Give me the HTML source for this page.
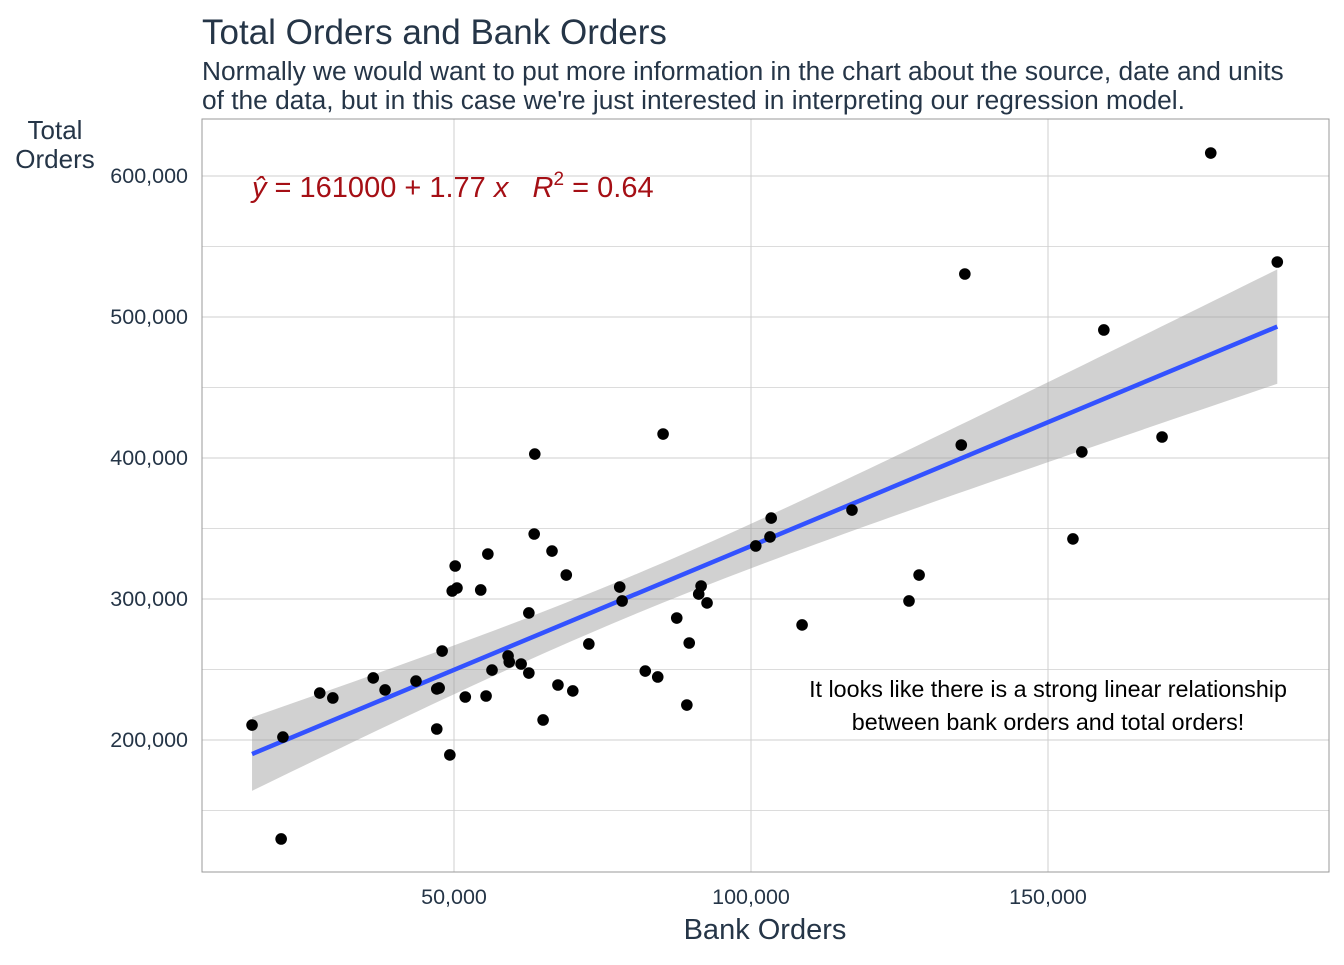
<!DOCTYPE html>
<html><head><meta charset="utf-8"><style>
body{margin:0;background:#fff;font-family:"Liberation Sans",Arial,sans-serif;}
svg text{font-family:"Liberation Sans",Arial,sans-serif;}
</style></head><body>
<svg id="chart" width="1344" height="960" xmlns="http://www.w3.org/2000/svg">
<text x="202" y="44" font-size="35" fill="#253547">Total Orders and Bank Orders</text>
<text x="202" y="80" font-size="26.3" fill="#253547">Normally we would want to put more information in the chart about the source, date and units</text>
<text x="202" y="109" font-size="26.3" fill="#253547">of the data, but in this case we're just interested in interpreting our regression model.</text>
<g id="grid"></g>
<g id="band"></g>
<g id="pts"></g>
<rect x="202" y="119" width="1127" height="753" fill="none" stroke="#999" stroke-width="1"/>
<g id="axes"></g>
<text x="55" y="139" font-size="26" fill="#253547" text-anchor="middle">Total</text>
<text x="55" y="168" font-size="26" fill="#253547" text-anchor="middle">Orders</text>
<text x="765" y="939" font-size="29" fill="#253547" text-anchor="middle">Bank Orders</text>
<text x="252" y="197" font-size="29" fill="#a50f15" xml:space="preserve"><tspan font-style="italic">ŷ</tspan> = 161000 + 1.77 <tspan font-style="italic">x</tspan>   <tspan font-style="italic">R</tspan><tspan font-size="19" dy="-12">2</tspan><tspan dy="12"> = 0.64</tspan></text>
<text x="1048" y="697" font-size="23.3" fill="#000" text-anchor="middle">It looks like there is a strong linear relationship</text>
<text x="1048" y="730" font-size="23.3" fill="#000" text-anchor="middle">between bank orders and total orders!</text>
</svg>
<script>
const bankOrders=[16.0,21.2,20.9,27.4,29.6,36.4,38.4,43.6,47.1,47.5,47.1,48.0,49.3,49.7,50.2,50.5,51.9,54.5,55.4,55.7,56.4,59.1,59.3,61.3,62.6,62.6,63.5,63.6,65.0,66.5,67.5,68.9,70.0,72.7,77.9,78.3,82.2,84.3,85.2,87.5,89.2,89.6,91.2,91.6,92.6,100.8,103.2,103.4,108.6,117.0,126.6,128.3,135.4,136.0,154.2,155.7,159.4,169.2,177.4,188.6].map(v=>v*1000);
const totalOrders=[210.6,202.1,129.8,233.3,229.8,244.0,235.5,241.8,236.2,236.9,207.8,263.1,189.4,305.7,323.4,307.8,230.5,306.4,231.2,331.9,249.6,259.6,255.3,253.9,247.5,290.1,346.1,402.8,214.2,334.0,239.0,317.0,234.8,268.1,308.5,298.6,248.9,244.7,417.0,286.5,224.8,268.8,303.5,309.2,297.2,337.6,344.0,357.4,281.6,363.1,298.6,317.0,409.2,530.5,342.6,404.3,490.8,414.9,616.3,539.0].map(v=>v*1000);
const xTicks=[50000,100000,150000];
const xTickLabels=["50,000","100,000","150,000"];
const yTicks=[200000,300000,400000,500000,600000];
const yTickLabels=["200,000","300,000","400,000","500,000","600,000"];
const X=v=>157+v*297/50000;
const Y=v=>740-(v-200000)*141/100000;
const NS="http://www.w3.org/2000/svg";
function mk(p,t,a){const e=document.createElementNS(NS,t);for(const k in a)e.setAttribute(k,a[k]);document.getElementById(p).appendChild(e);return e;}
[150000,250000,350000,450000,550000].forEach(v=>{const l=mk('grid','line',{x1:202,x2:1329,y1:Y(v),y2:Y(v),stroke:'#dcdcdc','stroke-width':1});

});
xTicks.forEach((v,i)=>{const l=mk('grid','line',{x1:X(v),x2:X(v),y1:119,y2:872,stroke:'#cfcfcf','stroke-width':1});


const t=mk('axes','text',{x:X(v),y:904,'font-size':21.5,fill:'#253547','text-anchor':'middle'});t.textContent=xTickLabels[i];

});
yTicks.forEach((v,i)=>{const l=mk('grid','line',{x1:202,x2:1329,y1:Y(v),y2:Y(v),stroke:'#cfcfcf','stroke-width':1});


const t=mk('axes','text',{x:188,y:Y(v)+7,'font-size':21.5,fill:'#253547','text-anchor':'end'});t.textContent=yTickLabels[i];

});
const n=bankOrders.length;const mx=bankOrders.reduce((a,b)=>a+b)/n,my=totalOrders.reduce((a,b)=>a+b)/n;
let sxx=0,sxy=0;for(let i=0;i<n;i++){sxx+=(bankOrders[i]-mx)**2;sxy+=(bankOrders[i]-mx)*(totalOrders[i]-my);}
const b=sxy/sxx,a=my-b*mx;let sse=0;for(let i=0;i<n;i++)sse+=(totalOrders[i]-a-b*bankOrders[i])**2;
const s=Math.sqrt(sse/(n-2));const xmin=Math.min(...bankOrders),xmax=Math.max(...bankOrders);
const up=[],lo=[];for(let k=0;k<=80;k++){const x=xmin+(xmax-xmin)*k/80;const se=2.0*s*Math.sqrt(1/n+(x-mx)**2/sxx);const f=a+b*x;up.push(X(x)+','+Y(f+se));lo.unshift(X(x)+','+Y(f-se));}
const band=mk('band','polygon',{points:up.concat(lo).join(' '),fill:'#999','fill-opacity':0.45});


const rl=mk('band','line',{x1:X(xmin),y1:Y(a+b*xmin),x2:X(xmax),y2:Y(a+b*xmax),stroke:'#3352ff','stroke-width':4.5});


for(let i=0;i<n;i++){const c=mk('pts','circle',{cx:X(bankOrders[i]),cy:Y(totalOrders[i]),r:5.8,fill:'#000'});

}
</script>
</body></html>
